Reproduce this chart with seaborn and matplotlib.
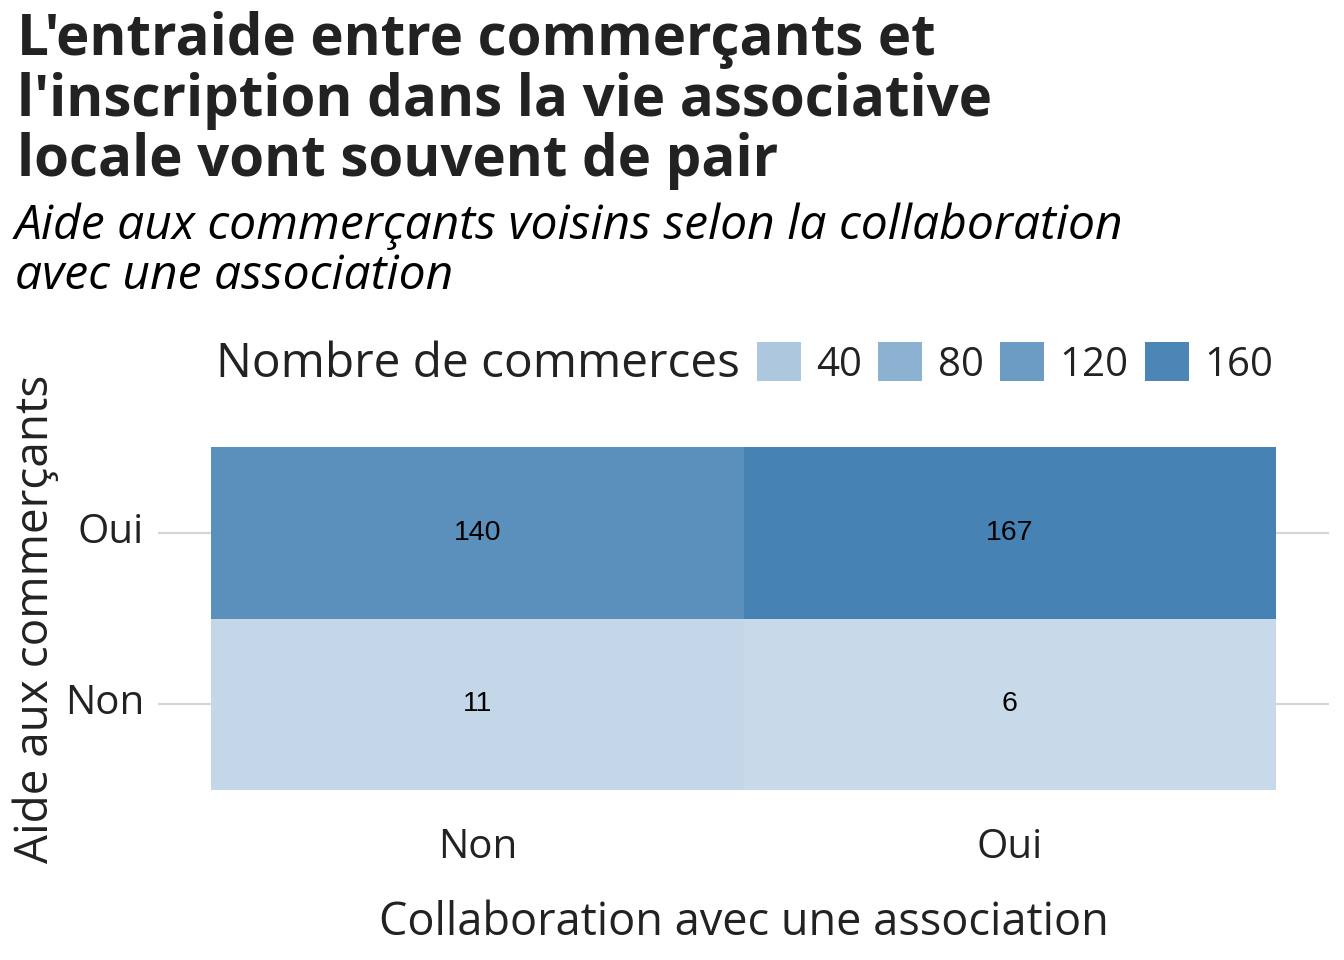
import pandas as pd
import seaborn as sns
import matplotlib.pyplot as plt
from matplotlib.colors import LinearSegmentedColormap
from matplotlib.patches import Patch

# data
aide = ["Oui", "Non"]          # rows, top to bottom
collab = ["Non", "Oui"]        # columns, left to right
counts_oui = [140, 167]        # aide = Oui
counts_non = [11, 6]           # aide = Non
legend_breaks = [40, 80, 120, 160]

TEXT = "#222222"

sns.set_theme(style="white")
plt.rcParams["font.family"] = ["Open Sans", "DejaVu Sans"]

df = pd.DataFrame([counts_oui, counts_non], index=aide, columns=collab)
vmin = min(counts_oui + counts_non)
vmax = max(counts_oui + counts_non)
cmap = LinearSegmentedColormap.from_list("fill", ["#c8d9e9", "#4682b4"])

fig = plt.figure(figsize=(13.44, 9.6), dpi=100)
W, H = 1344, 960
ax = fig.add_axes([158 / W, 1 - 807 / H, (1329 - 158) / W, (807 - 430) / H])

sns.heatmap(df, ax=ax, cmap=cmap, vmin=vmin, vmax=vmax, cbar=False,
            annot=True, fmt="d",
            annot_kws={"fontsize": 20.5, "color": "black",
                       "family": ["Liberation Sans", "DejaVu Sans"]})

ax.set_xlim(-0.1, 2.1)
ax.set_ylim(2.1, -0.1)
ax.set_axisbelow(True)
ax.grid(True, axis="y", color="#d6d6d6", linewidth=1.6)
ax.grid(False, axis="x")
for s in ax.spines.values():
    s.set_visible(False)

ax.tick_params(axis="both", length=0, labelsize=29, labelcolor=TEXT)
ax.tick_params(axis="y", pad=10)
ax.tick_params(axis="x", pad=15)
plt.setp(ax.get_yticklabels(), rotation=0)
ax.set_xlabel("Collaboration avec une association", fontsize=32.5, color=TEXT, labelpad=23)
ax.set_ylabel("Aide aux commerçants", fontsize=33, color=TEXT, labelpad=4)

# legend
handles = [Patch(facecolor=cmap((v - vmin) / (vmax - vmin)), edgecolor="none",
                 label=str(v)) for v in legend_breaks]
leg = fig.legend(handles=handles, ncol=4, loc="center right",
                 bbox_to_anchor=(1273 / W, 1 - 364 / H), bbox_transform=fig.transFigure,
                 frameon=False, fontsize=29, handlelength=1.1, handleheight=1.1,
                 handletextpad=0.38, columnspacing=0.4, borderpad=0, borderaxespad=0)
for t in leg.get_texts():
    t.set_color(TEXT)
fig.text(216 / W, 1 - 364 / H, "Nombre de commerces", fontsize=34.4, color=TEXT,
         ha="left", va="center")

# titles
fig.text(17 / W, 1 - 11 / H,
         "L'entraide entre commerçants et\nl'inscription dans la vie associative\nlocale vont souvent de pair",
         fontsize=40.7, fontweight="bold", color=TEXT, ha="left", va="top", linespacing=1.06)
fig.text(15 / W, 1 - 202 / H,
         "Aide aux commerçants voisins selon la collaboration\navec une association",
         fontsize=34.6, fontstyle="italic", color="black", ha="left", va="top", linespacing=1.08)

fig.savefig("out.png", dpi=100)
